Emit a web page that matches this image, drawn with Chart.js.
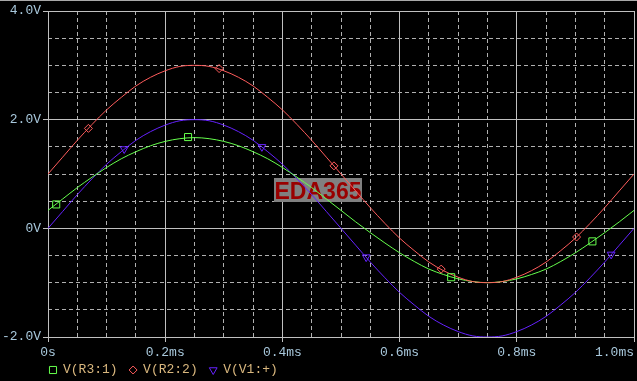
<!DOCTYPE html>
<html>
<head>
<meta charset="utf-8">
<title>V(R3:1) V(R2:2) V(V1:+)</title>
<script src="https://cdn.jsdelivr.net/npm/chart.js@4.4.1/dist/chart.umd.min.js"></script>
<style>
  html, body { margin: 0; padding: 0; background: #000; overflow: hidden; }
  canvas { display: block; }
  #frame { position: absolute; left: 0; top: 0; width: 100%; height: 1px; background: #a8a8a8; }
</style>
</head>
<body>
<canvas id="chart" width="640" height="381"></canvas>
<div id="frame"></div>
<script>
'use strict';

// time axis in ms
let timeMs = [0, 0.025, 0.05, 0.075, 0.1, 0.125, 0.15, 0.175, 0.2, 0.225, 0.25, 0.275, 0.3, 0.325, 0.35, 0.375,
  0.4, 0.425, 0.45, 0.475, 0.5, 0.525, 0.55, 0.575, 0.6, 0.625, 0.65, 0.675, 0.7, 0.725, 0.75, 0.775,
  0.8, 0.825, 0.85, 0.875, 0.9, 0.925, 0.95, 0.975, 1.0];

// V(R3:1) - green
let vR3 = [0.33, 0.54, 0.75, 0.94, 1.12, 1.28, 1.41, 1.52, 1.60, 1.65, 1.67, 1.65, 1.60, 1.52, 1.41, 1.28,
  1.12, 0.94, 0.75, 0.54, 0.33, 0.12, -0.08, -0.27, -0.45, -0.61, -0.75, -0.85, -0.93, -0.98, -1.00, -0.98,
  -0.93, -0.85, -0.75, -0.61, -0.45, -0.27, -0.08, 0.12, 0.33];

// V(R2:2) - red
let vR2 = [1.00, 1.31, 1.62, 1.91, 2.18, 2.41, 2.62, 2.78, 2.90, 2.98, 3.00, 2.98, 2.90, 2.78, 2.62, 2.41,
  2.18, 1.91, 1.62, 1.31, 1.00, 0.69, 0.38, 0.09, -0.18, -0.41, -0.62, -0.78, -0.90, -0.98, -1.00, -0.98,
  -0.90, -0.78, -0.62, -0.41, -0.18, 0.09, 0.38, 0.69, 1.00];

// V(V1:+) - blue
let vV1 = [0.00, 0.31, 0.62, 0.91, 1.18, 1.41, 1.62, 1.78, 1.90, 1.98, 2.00, 1.98, 1.90, 1.78, 1.62, 1.41,
  1.18, 0.91, 0.62, 0.31, 0.00, -0.31, -0.62, -0.91, -1.18, -1.41, -1.62, -1.78, -1.90, -1.98, -2.00, -1.98,
  -1.90, -1.78, -1.62, -1.41, -1.18, -0.91, -0.62, -0.31, 0.00];

// trace markers (probe symbols)
let markR3Times = [0.014, 0.239, 0.688, 0.929];
let markR3Vals = [0.44, 1.68, -0.90, -0.24];
let markR2Times = [0.069, 0.292, 0.488, 0.671, 0.902];
let markR2Vals = [1.84, 2.94, 1.15, -0.75, -0.16];
let markV1Times = [0.13, 0.365, 0.543, 0.961];
let markV1Vals = [1.46, 1.50, -0.53, -0.48];

let xTicks = [0, 0.2, 0.4, 0.6, 0.8, 1.0];
let yTicks = [-2, 0, 2, 4];

let canvasElem = document.getElementById('chart');

const green = '#66ff4d';
const red = '#ff5c5c';
const blue = '#6622ff';
const gridColor = '#c0c0c0';
const fontFamily = '"Liberation Mono", "Courier New", monospace';
const monoFont = { family: fontFamily, size: 13 };

function toPoints(xs, ys) {
  return xs.map((x, i) => ({ x: x, y: ys[i] }));
}

const watermark = {
  id: 'watermark',
  beforeDatasetsDraw(chart) {
    const ctx = chart.ctx;
    ctx.save();
    ctx.fillStyle = '#808080';
    ctx.fillRect(274, 178, 88, 24);
    ctx.fillStyle = '#990000';
    ctx.font = 'bold 23px "Liberation Sans", Arial, sans-serif';
    ctx.textAlign = 'center';
    ctx.textBaseline = 'alphabetic';
    ctx.fillText('EDA365', 318, 199);
    ctx.restore();
  }
};

// PSpice style legend: symbol + trace name, in a row under the x labels
const probeLegend = {
  id: 'probeLegend',
  afterDraw(chart) {
    const ctx = chart.ctx;
    let x = chart.chartArea.left + 1.5;
    const y = 370;
    ctx.save();
    ctx.font = '13px ' + fontFamily;
    ctx.textBaseline = 'middle';
    ctx.textAlign = 'left';
    for (let i = 0; i < 3; i++) {
      const ds = chart.data.datasets[i];
      const mark = chart.data.datasets[i + 3];
      ctx.strokeStyle = ds.borderColor;
      ctx.fillStyle = 'rgba(0,0,0,0)';
      ctx.lineWidth = 1;
      Chart.helpers.drawPoint(ctx, {
        pointStyle: ds.pointStyle,
        rotation: ds.pointRotation || 0,
        radius: mark.pointRadius,
        borderWidth: 1
      }, x + 3.5, y);
      ctx.fillStyle = '#d9b77e';
      ctx.fillText(ds.label, x + 13.5, y);
      x += 13.5 + ctx.measureText(ds.label).width + 12;
    }
    ctx.restore();
  }
};

function renderChart() {
  const data = {
    datasets: [
      {
        label: 'V(R3:1)',
        data: toPoints(timeMs, vR3),
        borderColor: green,
        backgroundColor: 'transparent',
        borderWidth: 1,
        pointStyle: 'rect',
        pointRadius: 0,
        cubicInterpolationMode: 'monotone',
        order: 1
      },
      {
        label: 'V(R2:2)',
        data: toPoints(timeMs, vR2),
        borderColor: red,
        backgroundColor: 'transparent',
        borderWidth: 1,
        pointStyle: 'rectRot',
        pointRadius: 0,
        cubicInterpolationMode: 'monotone',
        order: 0
      },
      {
        label: 'V(V1:+)',
        data: toPoints(timeMs, vV1),
        borderColor: blue,
        backgroundColor: 'transparent',
        borderWidth: 1,
        pointStyle: 'triangle',
        pointRotation: 180,
        pointRadius: 0,
        cubicInterpolationMode: 'monotone',
        order: 2
      },
      {
        label: 'R3 marks',
        data: toPoints(markR3Times, markR3Vals),
        showLine: false,
        pointStyle: 'rect',
        pointRadius: 5,
        pointBorderWidth: 1,
        borderColor: green,
        backgroundColor: 'transparent',
        order: -1
      },
      {
        label: 'R2 marks',
        data: toPoints(markR2Times, markR2Vals),
        showLine: false,
        pointStyle: 'rectRot',
        pointRadius: 4,
        pointBorderWidth: 1,
        borderColor: red,
        backgroundColor: 'transparent',
        order: -1
      },
      {
        label: 'V1 marks',
        data: toPoints(markV1Times, markV1Vals),
        showLine: false,
        pointStyle: 'triangle',
        pointRotation: 180,
        pointRadius: 4.5,
        pointBorderWidth: 1,
        borderColor: blue,
        backgroundColor: 'transparent',
        order: -1
      }
    ]
  };

  let config = {
    type: 'line',
    data: data,
    plugins: [watermark, probeLegend],
    options: {
      responsive: false,
      animation: false,
      events: [],
      layout: { padding: { left: 0, top: 11, right: 2, bottom: 20 } },
      scales: {
        xm: {
          type: 'linear', position: 'bottom', min: 0, max: 1,
          ticks: { display: false, stepSize: 0.05 },
          grid: { color: '#b0b0b0', drawTicks: false, z: -1 },
          border: { display: false, dash: [4, 3] }
        },
        ym: {
          type: 'linear', position: 'left', min: -2, max: 4,
          ticks: { display: false, stepSize: 0.5 },
          grid: { color: '#b0b0b0', drawTicks: false, z: -1 },
          border: { display: false, dash: [4, 3] }
        },
        x: {
          type: 'linear', position: 'bottom', min: 0, max: 1,
          afterBuildTicks: s => { s.ticks = xTicks.map(v => ({ value: v })); },
          afterFit: s => { s.height = 24; s.paddingRight = 0; },
          ticks: {
            color: '#a8c8dc', font: monoFont, padding: 3, maxRotation: 0, autoSkip: false,
            callback: v => {
              if (v === 0) return '0s';
              let txt = v.toFixed(1) + 'ms';
              // last label sits against the right window edge
              return v >= 1 ? txt + '     ' : txt;
            }
          },
          grid: { color: gridColor, tickLength: 5 },
          border: { color: gridColor }
        },
        y: {
          type: 'linear', position: 'left', min: -2, max: 4,
          afterBuildTicks: s => { s.ticks = yTicks.map(v => ({ value: v })); },
          afterFit: s => { s.width = 48; },
          ticks: {
            color: '#a8c8dc', font: monoFont, padding: 2,
            callback: v => v === 0 ? '0V' : v.toFixed(1) + 'V'
          },
          grid: { color: gridColor, tickLength: 5 },
          border: { color: gridColor }
        }
      },
      plugins: {
        tooltip: { enabled: false },
        legend: { display: false }
      }
    }
  };
  let myChart = new Chart(canvasElem, config);
}

renderChart();
</script>
</body>
</html>
